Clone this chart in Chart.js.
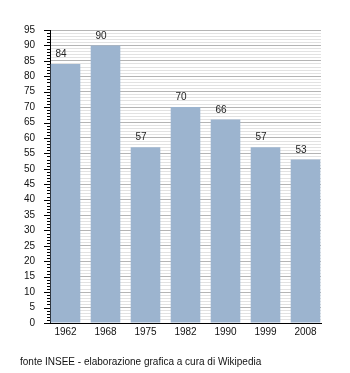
<!DOCTYPE html>
<html>
<head>
<meta charset="utf-8">
<script src="https://cdn.jsdelivr.net/npm/chart.js@4"></script>
<style>
  html, body { margin: 0; padding: 0; background: #fff; }
  #wrap { width: 350px; height: 373px; }
</style>
</head>
<body>
<div id="wrap"><canvas id="c" width="350" height="373"></canvas></div>
<script>
// Popolazione per anno di censimento
const years = ['1962', '1968', '1975', '1982', '1990', '1999', '2008'];
const population = [84, 90, 57, 70, 66, 57, 53];
const yMax = 95;
const sourceNote = 'fonte INSEE - elaborazione grafica a cura di Wikipedia';

const FONT = "'Liberation Sans', Arial, Helvetica, sans-serif";

// Short black tick marks on the y axis: long every 5, short every 1
const yTickMarks = {
  id: 'yTickMarks',
  afterDraw(chart) {
    const y = chart.scales.y;
    const ctx = chart.ctx;
    const left = chart.chartArea.left;
    ctx.save();
    ctx.strokeStyle = '#000';
    ctx.lineWidth = 1;
    for (let v = 0; v <= yMax; v++) {
      const py = Math.round(y.getPixelForValue(v)) + 0.5;
      const len = v % 5 === 0 ? 6 : 3;
      ctx.beginPath();
      ctx.moveTo(left - len, py);
      ctx.lineTo(left, py);
      ctx.stroke();
    }
    ctx.restore();
  }
};

// Value written above every bar
const barValues = {
  id: 'barValues',
  afterDatasetsDraw(chart) {
    const ctx = chart.ctx;
    const meta = chart.getDatasetMeta(0);
    ctx.save();
    ctx.font = '10px ' + FONT;
    ctx.fillStyle = '#222';
    ctx.textAlign = 'center';
    ctx.textBaseline = 'middle';
    meta.data.forEach((bar, i) => {
      ctx.fillText(String(population[i]), bar.x - 4.5, bar.y - 9.5);
    });
    ctx.restore();
  }
};

new Chart(document.getElementById('c'), {
  type: 'bar',
  data: {
    datasets: [{
      data: population.map((v, i) => ({ x: i, y: v })),
      backgroundColor: '#9cb4cf',
      borderWidth: 0,
      barPercentage: 0.74,
      categoryPercentage: 1.0
    }]
  },
  options: {
    responsive: false,
    animation: false,
    devicePixelRatio: 1,
    layout: { padding: { left: 20, right: 29, top: 30, bottom: 5 } },
    plugins: {
      legend: { display: false },
      tooltip: { enabled: false },
      title: {
        display: true,
        text: sourceNote,
        position: 'bottom',
        align: 'start',
        color: '#111',
        font: { family: FONT, size: 10, weight: 'normal' },
        padding: { top: 10, bottom: 0 }
      }
    },
    scales: {
      x: {
        type: 'linear',
        offset: false,
        min: -0.3875,
        max: 6.3875,
        // one tick per census year, at the bar positions
        afterBuildTicks(scale) {
          scale.ticks = years.map((_, i) => ({ value: i }));
        },
        afterFit(scale) { scale.height = 23; },
        grid: { display: false, drawTicks: false },
        border: { display: true, color: '#000', width: 1 },
        ticks: {
          autoSkip: false,
          maxRotation: 0,
          padding: 3,
          color: '#111',
          font: { family: FONT, size: 10 },
          callback: v => years[v] ?? ''
        }
      },
      y: {
        min: 0,
        max: yMax,
        afterFit(scale) { scale.width = 30; },
        grid: {
          drawTicks: false,
          color: ctx => (ctx.tick && ctx.tick.value % 5 === 0) ? '#b4b4b4' : '#e2e2e2',
          lineWidth: 1
        },
        border: { display: true, color: '#000', width: 1 },
        ticks: {
          stepSize: 1,
          autoSkip: false,
          padding: 15,
          color: '#111',
          font: { family: FONT, size: 10 },
          callback: v => (v % 5 === 0 ? String(v) : '')
        }
      }
    }
  },
  plugins: [yTickMarks, barValues]
});
</script>
</body>
</html>
